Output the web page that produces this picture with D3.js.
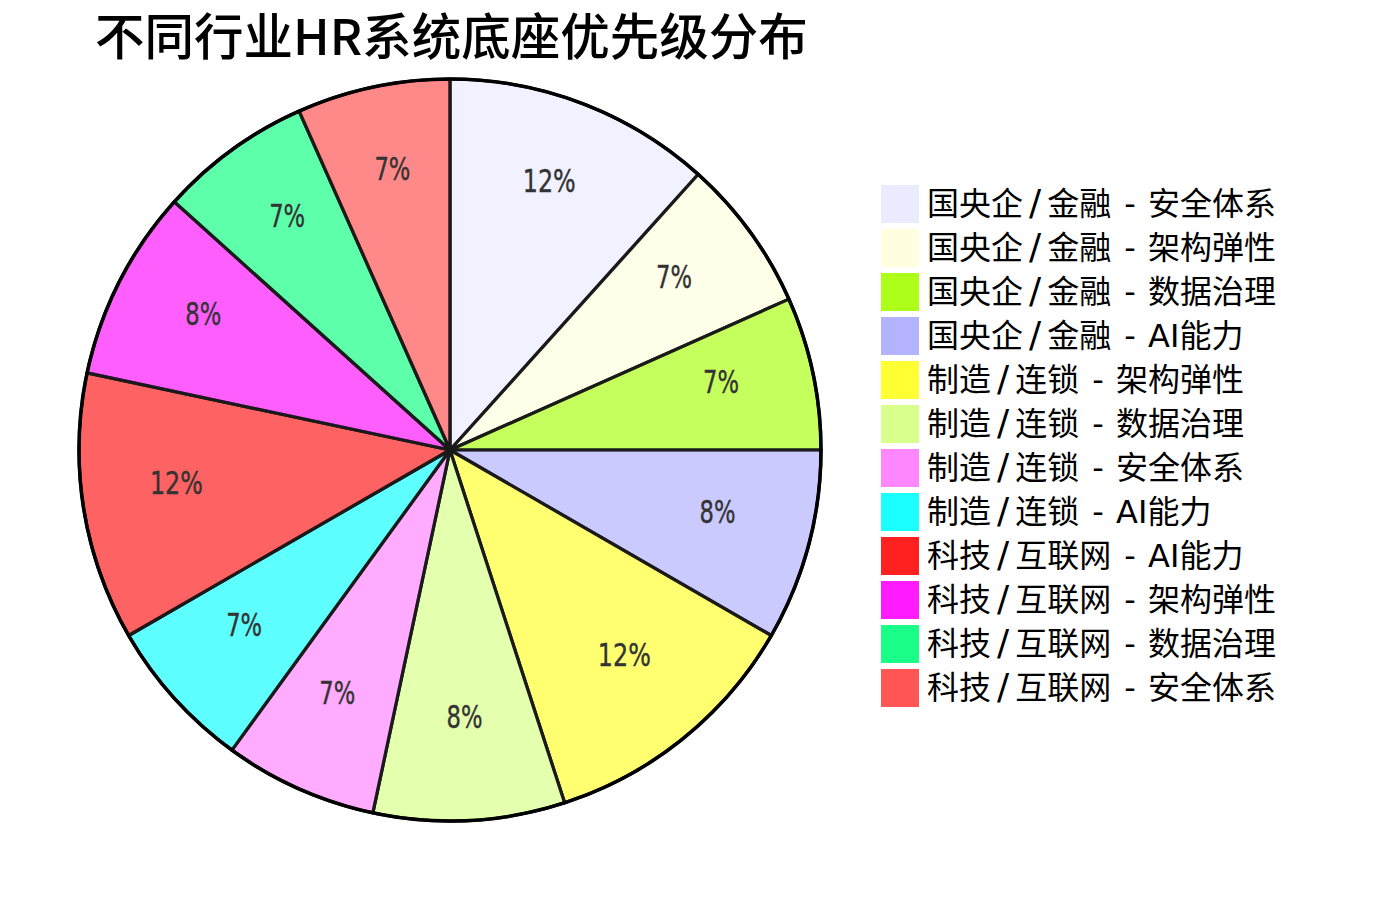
<!DOCTYPE html>
<html>
<head>
<meta charset="utf-8">
<script src="https://cdn.jsdelivr.net/npm/d3@7"></script>
<style>
  body { margin: 0; background: #fff; }
  svg { display: block; }
</style>
</head>
<body>
<div id="chart"></div>
<script>
// --- data ---
const title = "不同行业HR系统底座优先级分布";
const categories = [
  "国央企/金融 - 安全体系", "国央企/金融 - 架构弹性", "国央企/金融 - 数据治理", "国央企/金融 - AI能力",
  "制造/连锁 - 架构弹性", "制造/连锁 - 数据治理", "制造/连锁 - 安全体系", "制造/连锁 - AI能力",
  "科技/互联网 - AI能力", "科技/互联网 - 架构弹性", "科技/互联网 - 数据治理", "科技/互联网 - 安全体系"
];
const values = [35, 20, 20, 25, 35, 25, 20, 20, 35, 25, 20, 20];
const colors = [
  "#ebebff", "#ffffe0", "#adff1a", "#b3b3ff",
  "#ffff33", "#d9ff8c", "#ff88ff", "#1affff",
  "#ff2020", "#ff1aff", "#1aff88", "#ff5555"
];

const width = 1384, height = 900;
const cx = 450, cy = 450, radius = 371;

const svg = d3.select("#chart").append("svg")
  .attr("width", width)
  .attr("height", height);

// title
svg.append("text")
  .attr("x", 95)
  .attr("y", 55)
  .attr("font-family", "'Noto Sans CJK SC', sans-serif")
  .attr("font-size", 49.5)
  .attr("font-weight", 500)
  .attr("fill", "#000")
  .text(title);

const data = categories.map((c, i) => ({ name: c, value: values[i], color: colors[i] }));
const total = d3.sum(values);

const pie = d3.pie().value((d) => d.value).sort(null);
const arcs = pie(data);

const arc = d3.arc().innerRadius(0).outerRadius(radius);
const labelArc = d3.arc().innerRadius(277).outerRadius(277);

const g = svg.append("g").attr("transform", `translate(${cx},${cy})`);

g.selectAll("path.slice")
  .data(arcs)
  .join("path")
  .attr("class", "slice")
  .attr("d", arc)
  .attr("fill", (d) => d.data.color)
  .attr("fill-opacity", 0.7)
  .attr("stroke", "#1a1a1a")
  .attr("stroke-width", 3.2)
  .attr("stroke-linejoin", "round");

// outer rim
g.append("circle")
  .attr("r", radius)
  .attr("fill", "none")
  .attr("stroke", "#000")
  .attr("stroke-width", 3.5);

// percentage labels
g.selectAll("text.pct")
  .data(arcs)
  .join("text")
  .attr("class", "pct")
  .attr("x", (d) => labelArc.centroid(d)[0])
  .attr("y", (d) => labelArc.centroid(d)[1] + 1)
  .attr("text-anchor", "middle")
  .attr("font-family", "'DejaVu Sans', sans-serif")
  .attr("font-size", 32)
  .attr("fill", "#333")
  .attr("stroke", "#333")
  .attr("stroke-width", 0.4)
  .text((d) => `${Math.round((d.data.value / total) * 100)}%`)
  .each(function () {
    const s = this.textContent;
    d3.select(this)
      .attr("textLength", s.length === 3 ? 53 : 36)
      .attr("lengthAdjust", "spacingAndGlyphs");
  });

// legend
const legend = svg.append("g").attr("transform", "translate(881,185)");
const rowH = 44;

const rows = legend.selectAll("g.row")
  .data(data)
  .join("g")
  .attr("class", "row")
  .attr("transform", (d, i) => `translate(0,${i * rowH})`);

rows.append("rect")
  .attr("width", 38)
  .attr("height", 38)
  .attr("fill", (d) => d.color);

// the reference spaces "/" and " - " wider than DejaVu does, so pad them a bit
const labels = rows.append("text")
  .attr("x", 46)
  .attr("y", 30)
  .attr("font-family", "'DejaVu Sans', 'Noto Sans CJK SC', sans-serif")
  .attr("font-size", 32)
  .attr("fill", "#000");

labels.each(function (d) {
  const [industry, topic] = d.name.split(" - ");
  const [a, b] = industry.split("/");
  const t = d3.select(this);
  t.append("tspan").text(a);
  t.append("tspan").attr("dx", 6).attr("font-size", 36).text("/");
  t.append("tspan").attr("dx", 6).text(b);
  t.append("tspan").attr("dx", 3).text(" - ");
  t.append("tspan").attr("dx", 2).text(topic);
});
</script>
</body>
</html>
